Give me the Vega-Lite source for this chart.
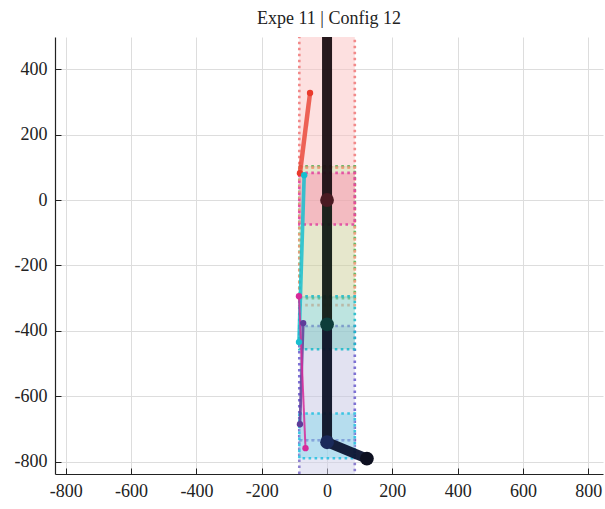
{
  "$schema": "https://vega.github.io/schema/vega-lite/v6.json",
  "width": 548,
  "height": 437,
  "autosize": "none",
  "padding": {"left": 55, "top": 37, "right": 2, "bottom": 35},
  "title": {"text": "Expe 11 | Config 12", "font": "Liberation Serif", "fontSize": 18, "fontWeight": "normal", "color": "#222222", "offset": 9},
  "config": {
    "view": {"stroke": null},
    "axis": {"labelFont": "Liberation Serif", "labelFontSize": 18, "labelColor": "#222222", "gridColor": "#dddddd", "gridWidth": 1, "domainColor": "#222222", "domainWidth": 1.2, "tickColor": "#222222", "tickSize": -6, "labelPadding": 14, "title": null}
  },
  "resolve": {"scale": {"color": "independent", "size": "independent", "strokeWidth": "independent"}},
  "datasets": {
    "rects": [
      {"part": "r1", "x1": -85, "x2": 85, "y1": 100, "y2": 540},
      {"part": "r2", "x1": -85, "x2": 85, "y1": -300, "y2": 103},
      {"part": "r3", "x1": -85, "x2": 85, "y1": -321, "y2": 99},
      {"part": "r4", "x1": -85, "x2": 85, "y1": -75, "y2": 83},
      {"part": "r6", "x1": -85, "x2": 85, "y1": -734, "y2": -385},
      {"part": "r8", "x1": -85, "x2": 85, "y1": -845, "y2": -734},
      {"part": "r5", "x1": -85, "x2": 85, "y1": -456, "y2": -294},
      {"part": "r7", "x1": -85, "x2": 85, "y1": -789, "y2": -652}
    ],
    "thin": [
      {"s": "red", "k": 0, "x": -83, "y": 82},
      {"s": "red", "k": 1, "x": -52, "y": 327},
      {"s": "cyan", "k": 0, "x": -70, "y": 76},
      {"s": "cyan", "k": 1, "x": -86, "y": -434},
      {"s": "purple", "k": 0, "x": -73, "y": -376},
      {"s": "purple", "k": 1, "x": -83, "y": -685},
      {"s": "magenta", "k": 0, "x": -86, "y": -294},
      {"s": "magenta", "k": 1, "x": -66, "y": -758}
    ],
    "skeleton": [
      {"seg": "a", "k": 0, "x": 0, "y": 560},
      {"seg": "a", "k": 1, "x": 0, "y": 0},
      {"seg": "b", "k": 0, "x": 0, "y": 0},
      {"seg": "b", "k": 1, "x": 0, "y": -380},
      {"seg": "c", "k": 0, "x": 0, "y": -380},
      {"seg": "c", "k": 1, "x": 0, "y": -740},
      {"seg": "d", "k": 0, "x": 0, "y": -740},
      {"seg": "d", "k": 1, "x": 122, "y": -790}
    ],
    "joints": [
      {"j": "j0", "x": 0, "y": 0},
      {"j": "j1", "x": 0, "y": -380},
      {"j": "j2", "x": 0, "y": -740},
      {"j": "j3", "x": 122, "y": -790}
    ]
  },
  "layer": [
    {
      "data": {"name": "rects"},
      "mark": {"type": "rect", "clip": true, "fillOpacity": 0.5, "strokeWidth": 2.6, "strokeDash": [2.6, 3.4], "strokeOpacity": 0.85},
      "encoding": {
        "x": {"field": "x1", "type": "quantitative", "scale": {"domain": [-833, 845], "nice": false, "zero": false},
          "axis": {"values": [-800, -600, -400, -200, 0, 200, 400, 600, 800], "tickSize": -6, "labelPadding": 14, "labelExpr": "toString(datum.value)", "orient": "bottom", "title": null,
            "labelFont": "Liberation Serif", "labelFontSize": 18, "labelColor": "#222222", "gridColor": "#dddddd", "gridWidth": 1, "domainColor": "#222222", "domainWidth": 1.2, "tickColor": "#222222"}},
        "x2": {"field": "x2"},
        "y": {"field": "y1", "type": "quantitative", "scale": {"domain": [-837, 498], "nice": false, "zero": false},
          "axis": {"values": [-800, -600, -400, -200, 0, 200, 400], "tickSize": -6, "labelPadding": 14, "labelExpr": "toString(datum.value)", "orient": "left", "title": null,
            "labelFont": "Liberation Serif", "labelFontSize": 18, "labelColor": "#222222", "gridColor": "#dddddd", "gridWidth": 1, "domainColor": "#222222", "domainWidth": 1.2, "tickColor": "#222222"}},
        "y2": {"field": "y2"},
        "fill": {"field": "part", "type": "nominal", "legend": null,
          "scale": {"domain": ["r1", "r2", "r3", "r4", "r5", "r6", "r7", "r8"],
                    "range": ["#fbc1c1", "#cdcf99", "#ffffff00", "#ff8fb5", "#7ccac2", "#c5c5e3", "#89d7eb", "#d0d0ea"]}},
        "stroke": {"field": "part", "type": "nominal", "legend": null,
          "scale": {"domain": ["r1", "r2", "r3", "r4", "r5", "r6", "r7", "r8"],
                    "range": ["#f07878", "#52b052", "#f59a7a", "#e0409e", "#17b8c8", "#6a5acd", "#22c0e0", "#7b6cc8"]}}
      }
    },
    {
      "data": {"name": "skeleton"},
      "mark": {"type": "line", "clip": true, "strokeWidth": 10, "opacity": 0.95, "strokeCap": "butt"},
      "encoding": {
        "x": {"field": "x", "type": "quantitative"},
        "y": {"field": "y", "type": "quantitative"},
        "order": {"field": "k", "type": "quantitative"},
        "detail": {"field": "seg", "type": "nominal"},
        "color": {"field": "seg", "type": "nominal", "legend": null,
          "scale": {"domain": ["a", "b", "c", "d"], "range": ["#1a0e12", "#111a14", "#0c1226", "#0c1430"]}}
      }
    },
    {
      "data": {"name": "joints"},
      "mark": {"type": "point", "filled": true, "clip": true, "opacity": 1},
      "encoding": {
        "x": {"field": "x", "type": "quantitative"},
        "y": {"field": "y", "type": "quantitative"},
        "size": {"field": "j", "type": "nominal", "legend": null,
          "scale": {"domain": ["j0", "j1", "j2", "j3"], "range": [190, 190, 190, 230]}},
        "color": {"field": "j", "type": "nominal", "legend": null,
          "scale": {"domain": ["j0", "j1", "j2", "j3"], "range": ["#4a1a22", "#0d3d3a", "#1a2a5a", "#0d1020"]}}
      }
    },
    {
      "data": {"name": "thin"},
      "mark": {"type": "line", "clip": true, "opacity": 0.85},
      "encoding": {
        "x": {"field": "x", "type": "quantitative"},
        "y": {"field": "y", "type": "quantitative"},
        "order": {"field": "k", "type": "quantitative"},
        "detail": {"field": "s", "type": "nominal"},
        "strokeWidth": {"field": "s", "type": "nominal", "legend": null,
          "scale": {"domain": ["red", "cyan", "purple", "magenta"], "range": [4.5, 2, 2, 2]}},
        "color": {"field": "s", "type": "nominal", "legend": null,
          "scale": {"domain": ["red", "cyan", "purple", "magenta"], "range": ["#ea4a3c", "#17becf", "#5e3c99", "#d62a9a"]}}
      }
    },
    {
      "data": {"name": "thin"},
      "mark": {"type": "point", "filled": true, "clip": true, "opacity": 1, "size": 40},
      "encoding": {
        "x": {"field": "x", "type": "quantitative"},
        "y": {"field": "y", "type": "quantitative"},
        "color": {"field": "s", "type": "nominal", "legend": null,
          "scale": {"domain": ["red", "cyan", "purple", "magenta"], "range": ["#ea3a2c", "#17becf", "#5e3c99", "#d62a9a"]}}
      }
    }
  ]
}
